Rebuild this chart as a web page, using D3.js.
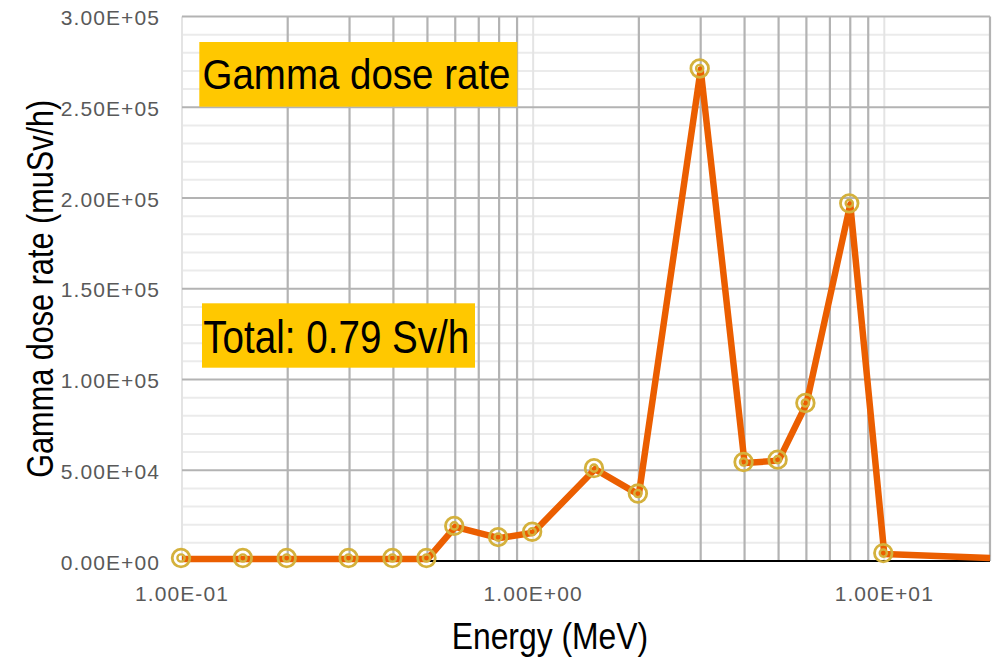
<!DOCTYPE html>
<html>
<head>
<meta charset="utf-8">
<script src="https://cdn.jsdelivr.net/npm/d3@7"></script>
<style>
  html, body { margin: 0; padding: 0; background: #fff; }
  svg { display: block; }
</style>
</head>
<body>
<svg id="chart" width="994" height="662"></svg>
<script>
// Gamma dose rate spectrum by photon energy
const energies = [0.1, 0.15, 0.2, 0.3, 0.4, 0.5, 0.6, 0.8, 1.0, 1.5, 2.0, 3.0, 4.0, 5.0, 6.0, 8.0, 10.0, 20.0];
const doseRates = [1100, 1100, 1100, 1100, 1100, 1100, 18800, 12600, 15600, 50600, 36600, 270800, 54000, 55300, 86500, 196500, 3800, 1700];
const xTicks = [0.1, 1, 10];
const yTicks = [0, 50000, 100000, 150000, 200000, 250000, 300000];
const yMinorStep = 10000;
const xMinorMultipliers = [2, 3, 4, 5, 6, 7, 8, 9];
const titleText = "Gamma dose rate";
const totalText = "Total: 0.79 Sv/h";
const xTitle = "Energy (MeV)";
const yTitle = "Gamma dose rate (muSv/h)";

const svg = d3.select("#chart");
const plot = { left: 182, right: 990, top: 16.5, bottom: 561 };

const x = d3.scaleLog().domain([0.1, 20]).range([plot.left, plot.right]);
const y = d3.scaleLinear().domain([0, 300000]).range([plot.bottom, plot.top]);

// Excel-style scientific notation, e.g. 3.00E+05
function sci(v) {
  if (v === 0) return "0.00E+00";
  const s = d3.format(".2e")(v);
  const [m, e] = s.split("e");
  const n = parseInt(e, 10);
  return m + "E" + (n < 0 ? "-" : "+") + String(Math.abs(n)).padStart(2, "0");
}

const grid = svg.append("g");

// light horizontal minor gridlines
const yMinor = d3.range(0, 300000 + 1, yMinorStep).filter(v => v % 50000 !== 0);
grid.selectAll("line.hmin").data(yMinor).join("line")
  .attr("x1", plot.left).attr("x2", plot.right)
  .attr("y1", d => y(d)).attr("y2", d => y(d))
  .attr("stroke", "#ebebeb").attr("stroke-width", 2);

// light vertical gridlines at each decade
grid.selectAll("line.vmaj").data(xTicks).join("line")
  .attr("x1", d => x(d)).attr("x2", d => x(d))
  .attr("y1", plot.top).attr("y2", plot.bottom)
  .attr("stroke", "#e4e4e4").attr("stroke-width", 2);

// darker vertical gridlines within each decade
const xMinor = [];
[0.1, 1, 10].forEach(dec => xMinorMultipliers.forEach(m => {
  const v = dec * m;
  if (v <= 20 + 1e-9) xMinor.push(v);
}));
grid.selectAll("line.vmin").data(xMinor).join("line")
  .attr("x1", d => x(d)).attr("x2", d => x(d))
  .attr("y1", plot.top).attr("y2", plot.bottom)
  .attr("stroke", "#b3b3b3").attr("stroke-width", 2.2);

// darker horizontal major gridlines
grid.selectAll("line.hmaj").data(yTicks.filter(v => v > 0)).join("line")
  .attr("x1", plot.left).attr("x2", plot.right)
  .attr("y1", d => y(d)).attr("y2", d => y(d))
  .attr("stroke", "#b3b3b3").attr("stroke-width", 2.2);

// zero line
svg.append("line")
  .attr("x1", plot.left).attr("x2", plot.right)
  .attr("y1", y(0)).attr("y2", y(0))
  .attr("stroke", "#000").attr("stroke-width", 2);

const tickFont = "'Liberation Sans', Arial, sans-serif";

// y tick labels
svg.append("g").selectAll("text").data(yTicks).join("text")
  .attr("x", 160).attr("y", d => y(d) + 1)
  .attr("text-anchor", "end").attr("dominant-baseline", "central")
  .attr("font-family", tickFont)
  .attr("font-size", 21).attr("letter-spacing", 1.1).attr("fill", "#595959")
  .text(sci);

// x tick labels
svg.append("g").selectAll("text").data(xTicks).join("text")
  .attr("x", d => x(d)).attr("y", 593)
  .attr("text-anchor", "middle").attr("dominant-baseline", "central")
  .attr("font-family", tickFont)
  .attr("font-size", 21).attr("letter-spacing", 1.1).attr("fill", "#595959")
  .text(sci);

// data series
const pts = energies.map((e, i) => ({ e, v: doseRates[i] }));
const line = d3.line().x(d => x(d.e)).y(d => y(d.v));
svg.append("path").datum(pts)
  .attr("d", line)
  .attr("fill", "none").attr("stroke", "#eb5e00")
  .attr("stroke-width", 6.5).attr("stroke-linejoin", "round");

const markerPts = pts.filter(d => d.e < 20);
const mk = svg.append("g").selectAll("g").data(markerPts).join("g")
  .attr("transform", d => `translate(${x(d.e) - 1},${y(d.v) - 1})`);
mk.append("circle").attr("r", 8.8).attr("fill", "none")
  .attr("stroke", "#d4b13c").attr("stroke-width", 2.8);
mk.append("circle").attr("r", 3.6).attr("fill", "none")
  .attr("stroke", "#d4b13c").attr("stroke-width", 2.4);

const narrow = "'Liberation Sans Narrow', 'Arial Narrow', 'Liberation Sans', Arial, sans-serif";

// annotation boxes
function labelBox(bx, by, bw, bh, tx, ty, tw, size, txt) {
  svg.append("rect").attr("x", bx).attr("y", by).attr("width", bw).attr("height", bh)
    .attr("fill", "#ffc800");
  svg.append("text").attr("x", tx).attr("y", ty)
    .attr("font-family", narrow).attr("font-size", size).attr("fill", "#000")
    .attr("textLength", tw).attr("lengthAdjust", "spacingAndGlyphs")
    .text(txt);
}
labelBox(199.3, 42, 318, 64.7, 202.5, 88.5, 308, 43, titleText);
labelBox(202, 303.3, 273, 64.4, 203.3, 352.7, 266, 46, totalText);

// axis titles
svg.append("text").attr("x", 451.7).attr("y", 649.3)
  .attr("font-family", narrow).attr("font-size", 37).attr("fill", "#000")
  .attr("textLength", 196.5).attr("lengthAdjust", "spacingAndGlyphs")
  .text(xTitle);

svg.append("text")
  .attr("transform", `translate(52.5,${(plot.top + plot.bottom) / 2}) rotate(-90)`)
  .attr("text-anchor", "middle")
  .attr("font-family", narrow).attr("font-size", 37).attr("fill", "#000")
  .attr("textLength", 378).attr("lengthAdjust", "spacingAndGlyphs")
  .text(yTitle);
</script>
</body>
</html>
